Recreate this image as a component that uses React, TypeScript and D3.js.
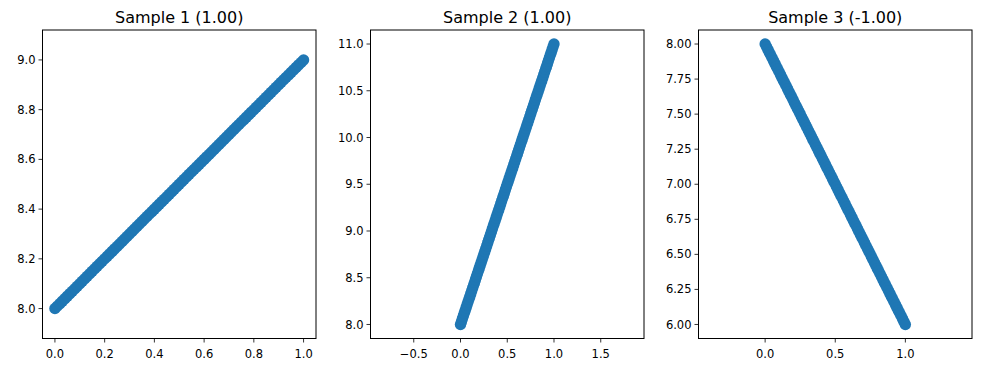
import React from 'react';
import * as d3 from 'd3';

// sampled x positions shared by the three samples
const xValues = [
  0.0, 0.01, 0.02, 0.03, 0.04, 0.05, 0.06, 0.07, 0.08, 0.09,
  0.1, 0.11, 0.12, 0.13, 0.14, 0.15, 0.16, 0.17, 0.18, 0.19,
  0.2, 0.21, 0.22, 0.23, 0.24, 0.25, 0.26, 0.27, 0.28, 0.29,
  0.3, 0.31, 0.32, 0.33, 0.34, 0.35, 0.36, 0.37, 0.38, 0.39,
  0.4, 0.41, 0.42, 0.43, 0.44, 0.45, 0.46, 0.47, 0.48, 0.49,
  0.5, 0.51, 0.52, 0.53, 0.54, 0.55, 0.56, 0.57, 0.58, 0.59,
  0.6, 0.61, 0.62, 0.63, 0.64, 0.65, 0.66, 0.67, 0.68, 0.69,
  0.7, 0.71, 0.72, 0.73, 0.74, 0.75, 0.76, 0.77, 0.78, 0.79,
  0.8, 0.81, 0.82, 0.83, 0.84, 0.85, 0.86, 0.87, 0.88, 0.89,
  0.9, 0.91, 0.92, 0.93, 0.94, 0.95, 0.96, 0.97, 0.98, 0.99,
  1.0,
];

const sample1Y = [
  8.0, 8.01, 8.02, 8.03, 8.04, 8.05, 8.06, 8.07, 8.08, 8.09,
  8.1, 8.11, 8.12, 8.13, 8.14, 8.15, 8.16, 8.17, 8.18, 8.19,
  8.2, 8.21, 8.22, 8.23, 8.24, 8.25, 8.26, 8.27, 8.28, 8.29,
  8.3, 8.31, 8.32, 8.33, 8.34, 8.35, 8.36, 8.37, 8.38, 8.39,
  8.4, 8.41, 8.42, 8.43, 8.44, 8.45, 8.46, 8.47, 8.48, 8.49,
  8.5, 8.51, 8.52, 8.53, 8.54, 8.55, 8.56, 8.57, 8.58, 8.59,
  8.6, 8.61, 8.62, 8.63, 8.64, 8.65, 8.66, 8.67, 8.68, 8.69,
  8.7, 8.71, 8.72, 8.73, 8.74, 8.75, 8.76, 8.77, 8.78, 8.79,
  8.8, 8.81, 8.82, 8.83, 8.84, 8.85, 8.86, 8.87, 8.88, 8.89,
  8.9, 8.91, 8.92, 8.93, 8.94, 8.95, 8.96, 8.97, 8.98, 8.99,
  9.0,
];

const sample2Y = [
  8.0, 8.03, 8.06, 8.09, 8.12, 8.15, 8.18, 8.21, 8.24, 8.27,
  8.3, 8.33, 8.36, 8.39, 8.42, 8.45, 8.48, 8.51, 8.54, 8.57,
  8.6, 8.63, 8.66, 8.69, 8.72, 8.75, 8.78, 8.81, 8.84, 8.87,
  8.9, 8.93, 8.96, 8.99, 9.02, 9.05, 9.08, 9.11, 9.14, 9.17,
  9.2, 9.23, 9.26, 9.29, 9.32, 9.35, 9.38, 9.41, 9.44, 9.47,
  9.5, 9.53, 9.56, 9.59, 9.62, 9.65, 9.68, 9.71, 9.74, 9.77,
  9.8, 9.83, 9.86, 9.89, 9.92, 9.95, 9.98, 10.01, 10.04, 10.07,
  10.1, 10.13, 10.16, 10.19, 10.22, 10.25, 10.28, 10.31, 10.34, 10.37,
  10.4, 10.43, 10.46, 10.49, 10.52, 10.55, 10.58, 10.61, 10.64, 10.67,
  10.7, 10.73, 10.76, 10.79, 10.82, 10.85, 10.88, 10.91, 10.94, 10.97,
  11.0,
];

const sample3Y = [
  8.0, 7.98, 7.96, 7.94, 7.92, 7.9, 7.88, 7.86, 7.84, 7.82,
  7.8, 7.78, 7.76, 7.74, 7.72, 7.7, 7.68, 7.66, 7.64, 7.62,
  7.6, 7.58, 7.56, 7.54, 7.52, 7.5, 7.48, 7.46, 7.44, 7.42,
  7.4, 7.38, 7.36, 7.34, 7.32, 7.3, 7.28, 7.26, 7.24, 7.22,
  7.2, 7.18, 7.16, 7.14, 7.12, 7.1, 7.08, 7.06, 7.04, 7.02,
  7.0, 6.98, 6.96, 6.94, 6.92, 6.9, 6.88, 6.86, 6.84, 6.82,
  6.8, 6.78, 6.76, 6.74, 6.72, 6.7, 6.68, 6.66, 6.64, 6.62,
  6.6, 6.58, 6.56, 6.54, 6.52, 6.5, 6.48, 6.46, 6.44, 6.42,
  6.4, 6.38, 6.36, 6.34, 6.32, 6.3, 6.28, 6.26, 6.24, 6.22,
  6.2, 6.18, 6.16, 6.14, 6.12, 6.1, 6.08, 6.06, 6.04, 6.02,
  6.0,
];

const titles = ['Sample 1 (1.00)', 'Sample 2 (1.00)', 'Sample 3 (-1.00)'];

const xTicks1 = [0, 0.2, 0.4, 0.6, 0.8, 1.0];
const yTicks1 = [8.0, 8.2, 8.4, 8.6, 8.8, 9.0];
const xTicks2 = [-0.5, 0, 0.5, 1.0, 1.5];
const yTicks2 = [8.0, 8.5, 9.0, 9.5, 10.0, 10.5, 11.0];
const xTicks3 = [0, 0.5, 1.0];
const yTicks3 = [6.0, 6.25, 6.5, 6.75, 7.0, 7.25, 7.5, 7.75, 8.0];

const WIDTH = 981;
const HEIGHT = 372;
const TOP = 30;
const BOTTOM = 338.5;
const PANEL_W = 273.5;
const LEFTS = [42.5, 370.5, 698.5];
const COLOR = '#1f77b4';
const FONT = 'DejaVu Sans, sans-serif';

const fmt = (digits: number) => (v: number) => v.toFixed(digits).replace('-', '\u2212');

type PanelProps = {
  left: number;
  title: string;
  ys: number[];
  xTicks: number[];
  yTicks: number[];
  yDigits: number;
};

// mimics matplotlib axis('equal'): 5% margins, then one axis stretched to keep the aspect
const Panel: React.FC<PanelProps> = ({ left, title, ys, xTicks, yTicks, yDigits }) => {
  const innerH = BOTTOM - TOP;
  const [yMin, yMax] = d3.extent(ys) as [number, number];
  const yPad = (yMax - yMin) * 0.05;
  let y0 = yMin - yPad;
  let y1 = yMax + yPad;
  const [xMin, xMax] = d3.extent(xValues) as [number, number];
  const xPad = (xMax - xMin) * 0.05;
  let x0 = xMin - xPad;
  let x1 = xMax + xPad;
  const pxX = PANEL_W / (x1 - x0);
  const pxY = innerH / (y1 - y0);
  if (pxY < pxX) {
    const half = PANEL_W / pxY / 2;
    const c = (x0 + x1) / 2;
    x0 = c - half;
    x1 = c + half;
  } else {
    const half = innerH / pxX / 2;
    const c = (y0 + y1) / 2;
    y0 = c - half;
    y1 = c + half;
  }
  const x = d3.scaleLinear().domain([x0, x1]).range([left, left + PANEL_W]);
  const y = d3.scaleLinear().domain([y0, y1]).range([BOTTOM, TOP]);
  const fx = fmt(1);
  const fy = fmt(yDigits);

  return (
    <g fontFamily={FONT}>
      <text x={left + PANEL_W / 2} y={TOP - 7} textAnchor="middle" fontSize={16} fill="#000">
        {title}
      </text>
      <g>
        {xValues.map((xv, i) => (
          <circle key={i} cx={x(xv)} cy={y(ys[i])} r={5.7} fill={COLOR} />
        ))}
      </g>
      <rect
        x={left}
        y={TOP}
        width={PANEL_W}
        height={innerH}
        fill="none"
        stroke="#000"
        strokeWidth={1}
      />
      {xTicks.map(t => (
        <g key={`x${t}`} transform={`translate(${x(t)},${BOTTOM})`}>
          <line y1={0} y2={4} stroke="#000" strokeWidth={0.8} />
          <text y={19} textAnchor="middle" fontSize={11.5} fill="#000">
            {fx(t)}
          </text>
        </g>
      ))}
      {yTicks.map(t => (
        <g key={`y${t}`} transform={`translate(${left},${y(t)})`}>
          <line x1={0} x2={-4} stroke="#000" strokeWidth={0.8} />
          <text x={-7} dy="0.35em" textAnchor="end" fontSize={11.5} fill="#000">
            {fy(t)}
          </text>
        </g>
      ))}
    </g>
  );
};

const App: React.FC = () => {
  const series = [sample1Y, sample2Y, sample3Y];
  const xTickSets = [xTicks1, xTicks2, xTicks3];
  const yTickSets = [yTicks1, yTicks2, yTicks3];
  const yDigits = [1, 1, 2];

  return (
    <svg
      width={WIDTH}
      height={HEIGHT}
      viewBox={`0 0 ${WIDTH} ${HEIGHT}`}
      style={{ position: 'absolute', left: 0, top: 0, background: '#fff' }}
    >
      {series.map((ys, i) => (
        <Panel
          key={titles[i]}
          left={LEFTS[i]}
          title={titles[i]}
          ys={ys}
          xTicks={xTickSets[i]}
          yTicks={yTickSets[i]}
          yDigits={yDigits[i]}
        />
      ))}
    </svg>
  );
};

export default App;
